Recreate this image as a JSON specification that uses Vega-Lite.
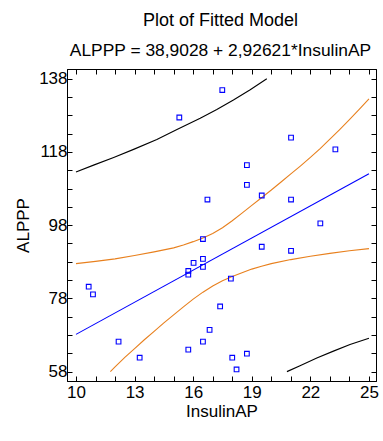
{
  "$schema": "https://vega.github.io/schema/vega-lite/v6.json",
  "autosize": {"type": "none"},
  "padding": {"left": 67, "top": 69, "right": 7, "bottom": 60},
  "width": 309,
  "height": 312,
  "background": "white",
  "title": {
    "text": "Plot of Fitted Model",
    "subtitle": "ALPPP = 38,9028 + 2,92621*InsulinAP",
    "font": "Liberation Sans",
    "fontSize": 18,
    "fontWeight": "normal",
    "color": "black",
    "subtitleFont": "Liberation Sans",
    "subtitleFontSize": 17.4,
    "subtitleColor": "black",
    "anchor": "middle",
    "dx": -1,
    "offset": 9,
    "subtitlePadding": 12
  },
  "config": {
    "view": {"stroke": "black", "strokeWidth": 1},
    "axis": {
      "grid": false,
      "domain": true,
      "domainColor": "black",
      "domainWidth": 1,
      "ticks": true,
      "tickColor": "black",
      "tickWidth": 1,
      "tickSize": -5,
      "labelFont": "Liberation Sans",
      "labelFontSize": 17,
      "labelColor": "black",
      "titleFont": "Liberation Sans",
      "titleFontSize": 17,
      "titleFontWeight": "normal",
      "titleColor": "black",
      "labelOverlap": false,
      "labelFlush": false
    }
  },
  "datasets": {
    "points": [
      {"InsulinAP": 17.49, "ALPPP": 134.9},
      {"InsulinAP": 15.29, "ALPPP": 127.4},
      {"InsulinAP": 21.01, "ALPPP": 121.9},
      {"InsulinAP": 23.28, "ALPPP": 118.7},
      {"InsulinAP": 18.75, "ALPPP": 114.4},
      {"InsulinAP": 18.75, "ALPPP": 109.0},
      {"InsulinAP": 19.51, "ALPPP": 106.1},
      {"InsulinAP": 16.73, "ALPPP": 105.0},
      {"InsulinAP": 21.01, "ALPPP": 105.0},
      {"InsulinAP": 22.51, "ALPPP": 98.5},
      {"InsulinAP": 16.5, "ALPPP": 94.2},
      {"InsulinAP": 19.51, "ALPPP": 92.1},
      {"InsulinAP": 21.01, "ALPPP": 91.0},
      {"InsulinAP": 16.5, "ALPPP": 88.8},
      {"InsulinAP": 16.02, "ALPPP": 87.7},
      {"InsulinAP": 16.5, "ALPPP": 86.6},
      {"InsulinAP": 15.75, "ALPPP": 85.5},
      {"InsulinAP": 15.75, "ALPPP": 84.5},
      {"InsulinAP": 17.93, "ALPPP": 83.4},
      {"InsulinAP": 10.65, "ALPPP": 81.2},
      {"InsulinAP": 10.87, "ALPPP": 79.1},
      {"InsulinAP": 17.38, "ALPPP": 75.8},
      {"InsulinAP": 16.84, "ALPPP": 69.4},
      {"InsulinAP": 12.18, "ALPPP": 66.2},
      {"InsulinAP": 16.5, "ALPPP": 66.2},
      {"InsulinAP": 15.75, "ALPPP": 64.0},
      {"InsulinAP": 18.75, "ALPPP": 62.9},
      {"InsulinAP": 13.26, "ALPPP": 61.8},
      {"InsulinAP": 18.0, "ALPPP": 61.8},
      {"InsulinAP": 18.22, "ALPPP": 58.6}
    ],
    "curves": [
      {"series": "fit", "band": "fit", "x": 10, "y": 68.17},
      {"series": "fit", "band": "fit", "x": 25, "y": 112.06},
      {"series": "confU", "band": "conf", "x": 10, "y": 87.5},
      {"series": "confU", "band": "conf", "x": 11, "y": 88.1},
      {"series": "confU", "band": "conf", "x": 12, "y": 88.8},
      {"series": "confU", "band": "conf", "x": 13, "y": 89.7},
      {"series": "confU", "band": "conf", "x": 14, "y": 90.7},
      {"series": "confU", "band": "conf", "x": 15, "y": 91.8},
      {"series": "confU", "band": "conf", "x": 15.5, "y": 92.6},
      {"series": "confU", "band": "conf", "x": 16, "y": 93.5},
      {"series": "confU", "band": "conf", "x": 16.5, "y": 94.5},
      {"series": "confU", "band": "conf", "x": 17, "y": 95.7},
      {"series": "confU", "band": "conf", "x": 17.5, "y": 97.3},
      {"series": "confU", "band": "conf", "x": 18, "y": 99.2},
      {"series": "confU", "band": "conf", "x": 18.5, "y": 101.3},
      {"series": "confU", "band": "conf", "x": 19, "y": 103.4},
      {"series": "confU", "band": "conf", "x": 19.5, "y": 105.5},
      {"series": "confU", "band": "conf", "x": 20, "y": 107.6},
      {"series": "confU", "band": "conf", "x": 20.5, "y": 109.8},
      {"series": "confU", "band": "conf", "x": 21, "y": 112.0},
      {"series": "confU", "band": "conf", "x": 21.5, "y": 114.2},
      {"series": "confU", "band": "conf", "x": 22, "y": 116.5},
      {"series": "confU", "band": "conf", "x": 22.5, "y": 118.9},
      {"series": "confU", "band": "conf", "x": 23, "y": 121.5},
      {"series": "confU", "band": "conf", "x": 23.5, "y": 124.1},
      {"series": "confU", "band": "conf", "x": 24, "y": 126.8},
      {"series": "confU", "band": "conf", "x": 24.5, "y": 129.6},
      {"series": "confU", "band": "conf", "x": 25, "y": 132.5},
      {"series": "confL", "band": "conf", "x": 11.76, "y": 58.0},
      {"series": "confL", "band": "conf", "x": 12, "y": 59.3},
      {"series": "confL", "band": "conf", "x": 12.5, "y": 61.9},
      {"series": "confL", "band": "conf", "x": 13, "y": 64.3},
      {"series": "confL", "band": "conf", "x": 13.5, "y": 66.7},
      {"series": "confL", "band": "conf", "x": 14, "y": 69.0},
      {"series": "confL", "band": "conf", "x": 14.5, "y": 71.3},
      {"series": "confL", "band": "conf", "x": 15, "y": 73.5},
      {"series": "confL", "band": "conf", "x": 15.5, "y": 75.7},
      {"series": "confL", "band": "conf", "x": 16, "y": 77.8},
      {"series": "confL", "band": "conf", "x": 16.5, "y": 79.7},
      {"series": "confL", "band": "conf", "x": 17, "y": 81.4},
      {"series": "confL", "band": "conf", "x": 17.5, "y": 82.8},
      {"series": "confL", "band": "conf", "x": 18, "y": 84.0},
      {"series": "confL", "band": "conf", "x": 18.5, "y": 85.0},
      {"series": "confL", "band": "conf", "x": 19, "y": 86.0},
      {"series": "confL", "band": "conf", "x": 19.5, "y": 86.8},
      {"series": "confL", "band": "conf", "x": 20, "y": 87.5},
      {"series": "confL", "band": "conf", "x": 21, "y": 88.6},
      {"series": "confL", "band": "conf", "x": 22, "y": 89.5},
      {"series": "confL", "band": "conf", "x": 23, "y": 90.3},
      {"series": "confL", "band": "conf", "x": 24, "y": 91.0},
      {"series": "confL", "band": "conf", "x": 25, "y": 91.6},
      {"series": "predU", "band": "pred", "x": 10, "y": 112.5},
      {"series": "predU", "band": "pred", "x": 10.9, "y": 114.4},
      {"series": "predU", "band": "pred", "x": 11.93, "y": 116.5},
      {"series": "predU", "band": "pred", "x": 12.95, "y": 118.7},
      {"series": "predU", "band": "pred", "x": 14.14, "y": 121.4},
      {"series": "predU", "band": "pred", "x": 15.17, "y": 124.1},
      {"series": "predU", "band": "pred", "x": 16.36, "y": 127.2},
      {"series": "predU", "band": "pred", "x": 17.21, "y": 129.6},
      {"series": "predU", "band": "pred", "x": 18.06, "y": 132.2},
      {"series": "predU", "band": "pred", "x": 18.92, "y": 135.0},
      {"series": "predU", "band": "pred", "x": 19.77, "y": 138.0},
      {"series": "predL", "band": "pred", "x": 20.8, "y": 58.0},
      {"series": "predL", "band": "pred", "x": 21.47, "y": 59.6},
      {"series": "predL", "band": "pred", "x": 22.33, "y": 61.7},
      {"series": "predL", "band": "pred", "x": 23.18, "y": 63.6},
      {"series": "predL", "band": "pred", "x": 24.03, "y": 65.4},
      {"series": "predL", "band": "pred", "x": 25, "y": 67.1}
    ]
  },
  "layer": [
    {
      "data": {"name": "curves"},
      "mark": {"type": "line", "strokeWidth": 1.1, "clip": true},
      "encoding": {
        "x": {
          "field": "x", "type": "quantitative",
          "scale": {"domain": [9.54, 25.36], "nice": false, "zero": false},
          "axis": {
            "orient": "bottom",
            "title": "InsulinAP",
            "tickCount": 16,
            "labelExpr": "indexof([10, 13, 16, 19, 22, 25], datum.value) >= 0 ? datum.label : ''",
            "labelPadding": 8,
            "titlePadding": 3
          }
        },
        "y": {
          "field": "y", "type": "quantitative",
          "scale": {"domain": [55.44, 140.65], "nice": false, "zero": false},
          "axis": {
            "orient": "left",
            "title": "ALPPP",
            "tickCount": 17,
            "tickOffset": 7.32,
            "labelExpr": "indexof([60, 80, 100, 120, 140], datum.value) >= 0 ? format(datum.value - 2, 'd') : ''",
            "labelPadding": 5,
            "titlePadding": 6
          }
        },
        "color": {
          "field": "band", "type": "nominal",
          "scale": {"domain": ["fit", "conf", "pred"], "range": ["#0000ff", "#e8801e", "#000000"]},
          "legend": null
        },
        "detail": {"field": "series", "type": "nominal"}
      }
    },
    {
      "data": {"name": "points"},
      "mark": {"type": "point", "shape": "square", "size": 22, "color": "#0000ff", "strokeWidth": 1.1, "filled": false, "opacity": 1},
      "encoding": {
        "x": {
          "field": "InsulinAP", "type": "quantitative",
          "axis": {
            "orient": "top", "title": null, "labels": false,
            "tickCount": 16
          }
        },
        "y": {
          "field": "ALPPP", "type": "quantitative",
          "axis": {
            "orient": "right", "title": null, "labels": false,
            "tickCount": 17,
            "tickOffset": 7.32
          }
        }
      }
    }
  ],
  "resolve": {"axis": {"x": "independent", "y": "independent"}}
}
